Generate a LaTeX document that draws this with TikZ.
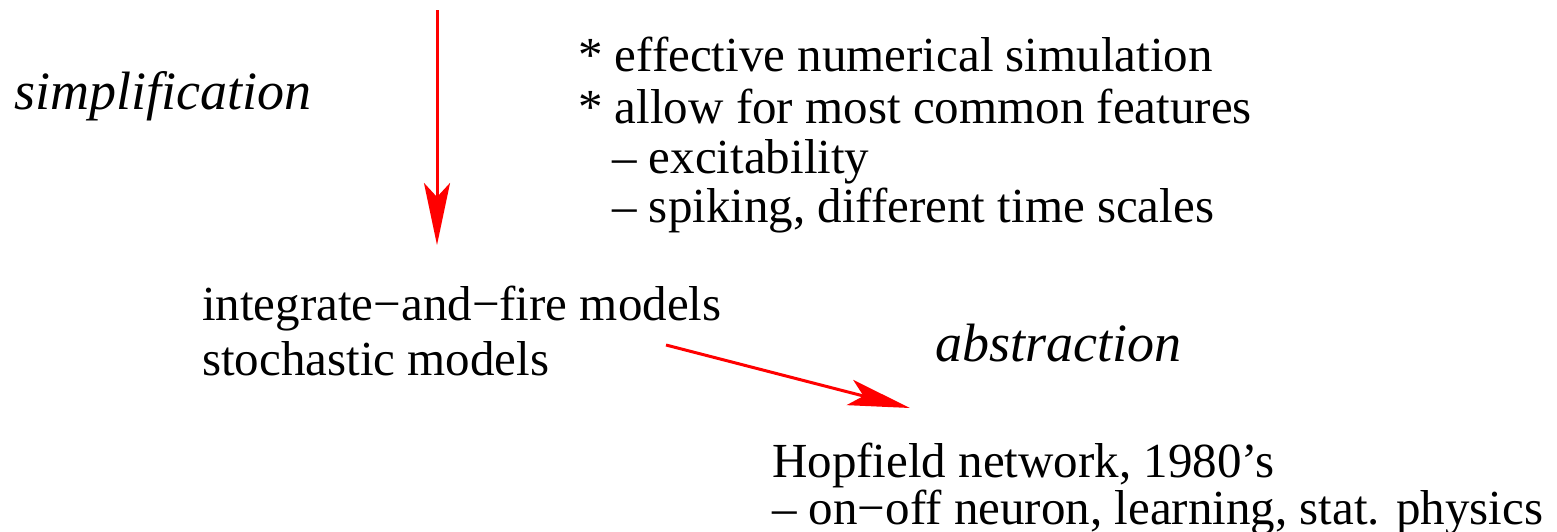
\documentclass[tikz,border=0pt]{standalone}
\usepackage{fontspec}
\setmainfont{Liberation Serif}
\usetikzlibrary{arrows.meta}
\begin{document}
\begin{tikzpicture}[x=1pt,y=-1pt,
  txt/.style={anchor=base west,inner sep=0pt,font=\fontsize{49}{53}\selectfont},
  itxt/.style={txt,font=\fontsize{54}{58}\selectfont\itshape},
  redarrow/.style={draw=red,line width=3pt,-{Stealth[length=62pt,width=26pt,inset=14pt,fill=red]}}]
\useasboundingbox (0,0) rectangle (1557,531);
% labels
\node[itxt] (simp) at (14,109) {simplification};
\node[itxt] (abst) at (935,361) {abstraction};
% feature list
\node[txt] (f1) at (578,71) {* effective numerical simulation};
\node[txt] (f2) at (578,123) {* allow for most common features};
\node[txt] (f3) at (612,173) {– excitability};
\node[txt] (f4) at (612,222) {– spiking, different time scales};
% model levels
\node[txt] (m1) at (202,320) {integrate−and−fire models};
\node[txt] (m2) at (202,375) {stochastic models};
\node[txt] (h1) at (772,477) {Hopfield network, 1980’s};
\node[txt] (h2) at (772,524) {– on−off neuron, learning, stat. physics};
% arrows
\coordinate (top) at (437,10);
\coordinate (vtip) at (437,245);
\coordinate (dstart) at (666,345);
\coordinate (dtip) at (910,408);
\draw[redarrow] (top) -- (vtip);
\draw[redarrow] (dstart) -- (dtip);
\end{tikzpicture}
\end{document}
